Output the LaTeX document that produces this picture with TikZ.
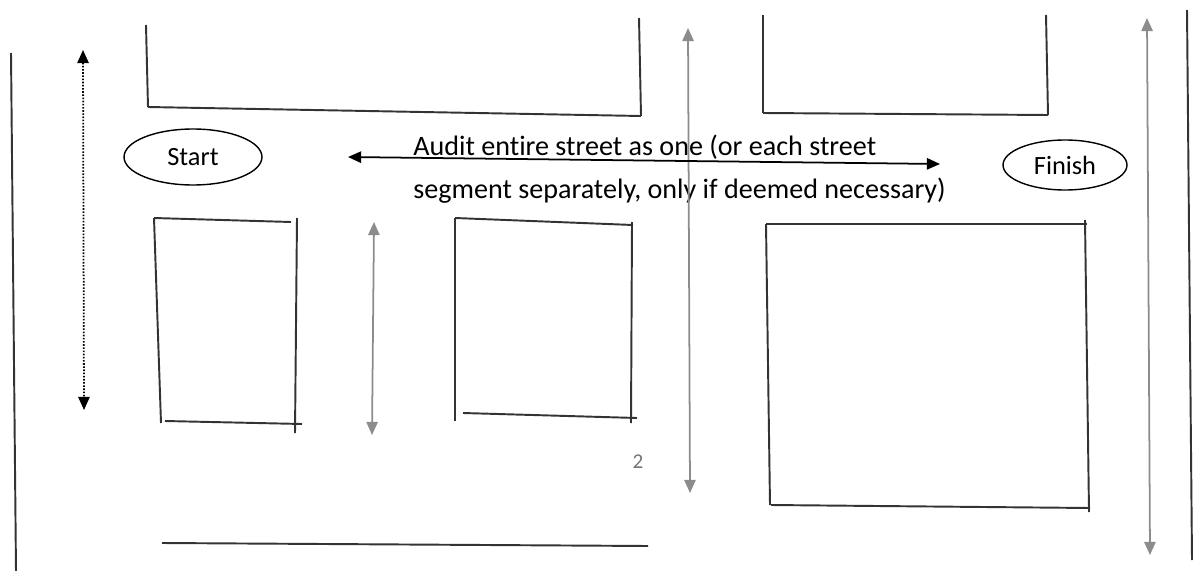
\documentclass[tikz,border=0pt]{standalone}
\usepackage{fontspec}
\setmainfont{Carlito}[Ligatures=NoCommon]
\usetikzlibrary{arrows.meta,shapes.geometric}

\begin{document}
\begin{tikzpicture}
[x=0.02cm,y=-0.02cm,
  ovaldecorate/.style={shape=ellipse,draw,line width=0.8pt,inner sep=0pt,font=\fontsize{15}{17}\selectfont},
  linedecorate/.style={-,line width=1.1pt,draw=black!80},
  arrowdecorate/.style={{Triangle[width=6.5pt,length=7.5pt]}-{Triangle[width=6.5pt,length=7.5pt]},line width=1pt,draw=black!45},
  dotdecorate/.style={arrowdecorate,draw=black,dash pattern=on 0.9pt off 0.9pt}]
\useasboundingbox (0,0) rectangle (1193,571);
%% corner points of blocks and streets
\foreach \pointname/\x/\y in {
  la/11/53, lb/16/571, ra/1187/10, rb/1192/560,
  tla/146/25, tlb/148/107, tlc/641/116, tld/639/18,
  tra/763/15, trb/763/113, trc/1048/115, trd/1046/15,
  aa/154/218, ab/291/222, ac/297/218, ad/295/433,
  ae/165/421, af/302/424, ag/161/423,
  ba/455/218, bb/633/225, bc/632/222, bd/631/423,
  be/463/413, bf/637/418, bg/455/421,
  ca/766/224, cb/1087/224, cc/1085/220, cd/1089/512,
  ce/771/505, cf/1090/508, cg/770/505,
  sa/162/543, sb/648/546}
{
  \coordinate (\pointname) at (\x,\y);
}
%% arrow ends
\foreach \pointname/\x/\y in {
  dota/83/50, dotb/84/410, mida/374/222, midb/372/435,
  cena/688/28, cenb/690/493, rta/1147/18, rtb/1150/555,
  hora/348/157, horb/940/164}
{
  \coordinate (\pointname) at (\x,\y);
}
%% ovals and labels
\node (start) at (193,157) [ovaldecorate,minimum width=2.76cm,minimum height=1.12cm] {Start};
\node (finish) at (1065,165) [ovaldecorate,minimum width=2.48cm,minimum height=1cm] {Finish};
\node (audit) at (413,135) [anchor=north west,inner sep=0pt,align=left,
  font=\fontsize{16}{24.5}\selectfont] {Audit entire street as one (or each street\\segment separately, only if deemed necessary)};
\node (two) at (638,462) [text=black!55,font=\fontsize{12}{14}\selectfont] {2};
%% block and street edges
\path
\foreach \startnode/\endnode in {la/lb, ra/rb,
  tla/tlb, tlb/tlc, tlc/tld, tra/trb, trb/trc, trc/trd,
  aa/ab, ac/ad, ae/af, aa/ag,
  ba/bb, bc/bd, be/bf, ba/bg,
  ca/cb, cc/cd, ce/cf, ca/cg, sa/sb} {
  (\startnode) edge[linedecorate] (\endnode)
};
%% arrows
\path
\foreach \startnode/\endnode in {mida/midb, cena/cenb, rta/rtb} {
  (\startnode) edge[arrowdecorate] (\endnode)
};
\draw[dotdecorate] (dota) -- (dotb);
\draw[arrowdecorate,draw=black] (hora) -- (horb);
\end{tikzpicture}
\end{document}
